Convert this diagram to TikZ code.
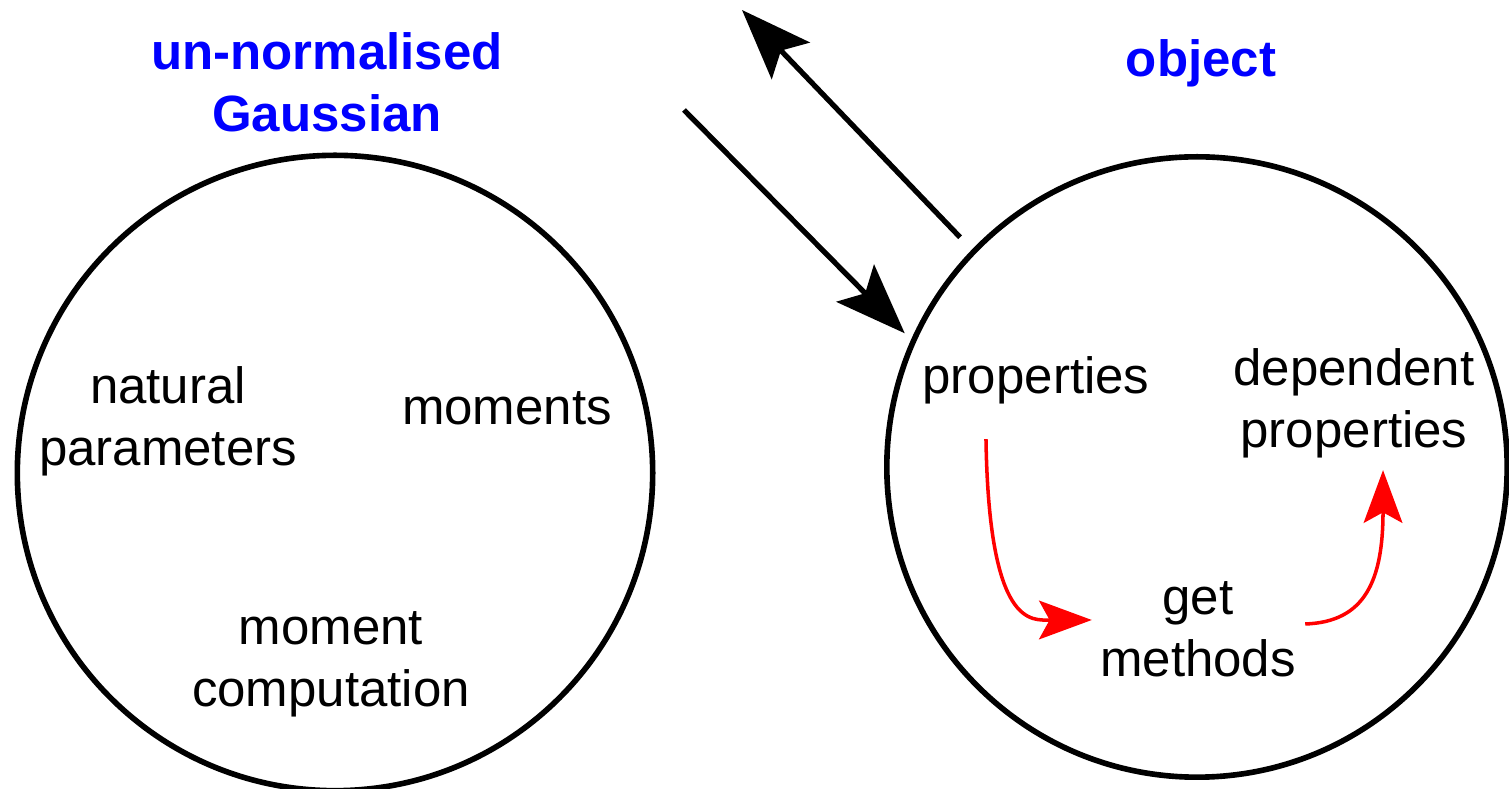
\documentclass[tikz,border=0pt]{standalone}
\usepackage{fontspec}
\setmainfont{Liberation Sans}
\usetikzlibrary{arrows.meta}

\begin{document}
\begin{tikzpicture}[x=0.01cm, y=-0.01cm,
        every node/.style={font=\fontsize{14.5}{17.6}\selectfont, align=center},
        blob/.style={draw, circle, line width=1.6pt, inner sep=0pt},
        title/.style={blue, font=\fontsize{14.5}{17.6}\selectfont\bfseries},
        big/.style={line width=1.5pt, -{Stealth[length=20pt, width=15pt, inset=4pt]}},
        flow/.style={red, line width=1pt, -{Stealth[length=15pt, width=11pt, inset=3pt]}}]
        \useasboundingbox (0,0) rectangle (1509,789);

        % the two circles and their titles
        \node[blob, minimum size=6.35cm] (gauss) at (335,473) {};
        \node[blob, minimum size=6.2cm] (obj) at (1197,467) {};
        \node[title] (gtitle) at (327,82) {un-normalised\\Gaussian};
        \node[title] (otitle) at (1201,63) {object};

        % contents
        \node (nat) at (168,421) {natural\\parameters};
        \node (mom) at (507,408) {moments};
        \node (comp) at (331,664) {moment\\computation};
        \node (props) at (1036,380) {properties};
        \node (dep) at (1354,403) {dependent\\properties};
        \node (get) at (1198,629) {get\\methods};

        % in and out of the object
        \coordinate (uptip) at (742,10);
        \coordinate (downtail) at (684,110);
        \draw[big, shorten <=0.17cm] (obj.136.5) -- (uptip);
        \draw[big, shorten >=0.09cm] (downtail) -- (obj.156.4);

        \draw[flow] ([xshift=-0.5cm, yshift=-0.23cm]props.south)
            .. controls +(3,190) and +(-60,0) .. ([xshift=0.04cm, yshift=0.09cm]get.west);
        \draw[flow] ([xshift=-0.03cm, yshift=0.05cm]get.east)
            .. controls +(60,-2) and +(0,110) .. ([xshift=0.29cm]dep.south);
    \end{tikzpicture}
\end{document}
